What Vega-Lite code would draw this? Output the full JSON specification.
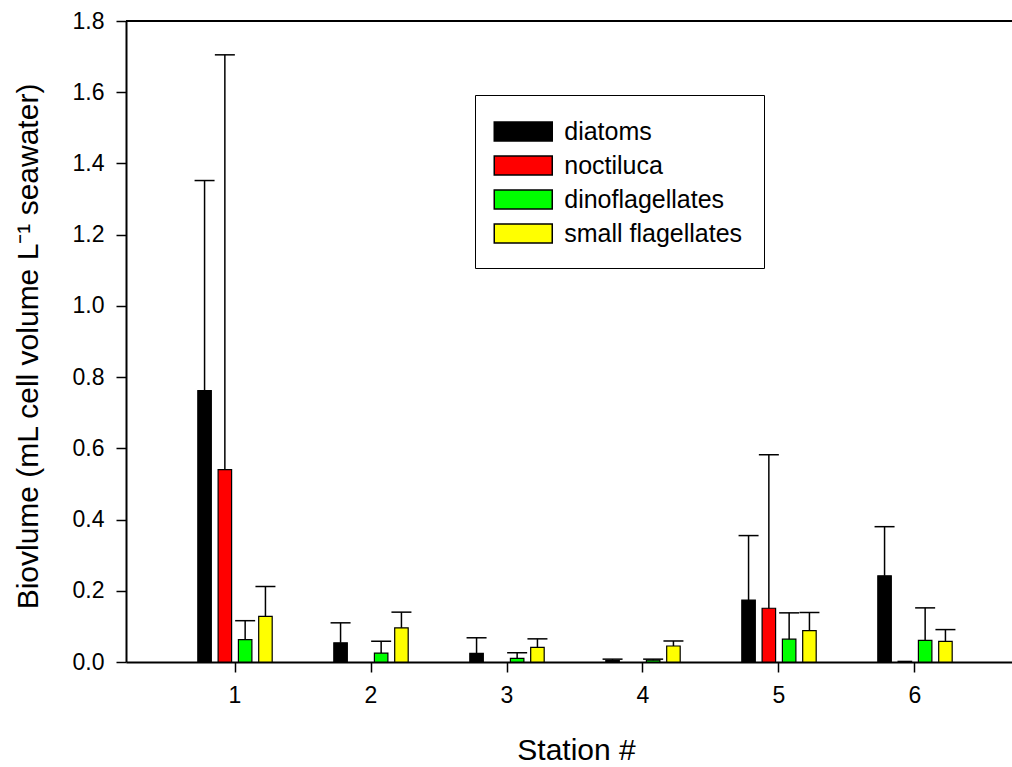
{
  "$schema": "https://vega.github.io/schema/vega-lite/v6.json",
  "width": 886,
  "height": 641,
  "autosize": "none",
  "padding": {"left": 126, "top": 21, "right": 0, "bottom": 105},
  "background": "white",
  "config": {"view": {"stroke": null}, "font": "Liberation Sans"},
  "data": {"values": [
    {"station": "1", "type": "diatoms", "value": 0.762, "upper": 1.352},
    {"station": "1", "type": "noctiluca", "value": 0.540, "upper": 1.705},
    {"station": "1", "type": "dinoflagellates", "value": 0.063, "upper": 0.116},
    {"station": "1", "type": "small flagellates", "value": 0.128, "upper": 0.212},
    {"station": "2", "type": "diatoms", "value": 0.054, "upper": 0.110},
    {"station": "2", "type": "dinoflagellates", "value": 0.025, "upper": 0.058},
    {"station": "2", "type": "small flagellates", "value": 0.096, "upper": 0.140},
    {"station": "3", "type": "diatoms", "value": 0.024, "upper": 0.068},
    {"station": "3", "type": "dinoflagellates", "value": 0.010, "upper": 0.026},
    {"station": "3", "type": "small flagellates", "value": 0.041, "upper": 0.065},
    {"station": "4", "type": "diatoms", "value": 0.004, "upper": 0.008},
    {"station": "4", "type": "dinoflagellates", "value": 0.005, "upper": 0.008},
    {"station": "4", "type": "small flagellates", "value": 0.045, "upper": 0.059},
    {"station": "5", "type": "diatoms", "value": 0.174, "upper": 0.355},
    {"station": "5", "type": "noctiluca", "value": 0.151, "upper": 0.582},
    {"station": "5", "type": "dinoflagellates", "value": 0.064, "upper": 0.138},
    {"station": "5", "type": "small flagellates", "value": 0.088, "upper": 0.139},
    {"station": "6", "type": "diatoms", "value": 0.242, "upper": 0.380},
    {"station": "6", "type": "noctiluca", "value": 0.002, "upper": null},
    {"station": "6", "type": "dinoflagellates", "value": 0.061, "upper": 0.152},
    {"station": "6", "type": "small flagellates", "value": 0.058, "upper": 0.091}
  ]},
  "layer": [
    {
      "mark": {"type": "bar", "stroke": "black", "strokeWidth": 1.2},
      "encoding": {
        "x": {
          "field": "station", "type": "nominal",
          "scale": {"range": [0, 898], "paddingInner": 0.4, "paddingOuter": 0.5015},
          "axis": {
            "title": "Station #", "labelAngle": 0, "tickSize": 10, "tickWidth": 1.5, "tickColor": "black",
            "domainColor": "black", "domainWidth": 2, "labelFontSize": 23, "labelColor": "black",
            "labelPadding": 12, "labelFont": "Liberation Sans",
            "titleFontSize": 30, "titleFontWeight": "normal", "titleColor": "black", "titleFont": "Liberation Sans",
            "titleX": 450, "titleY": 88, "titleBaseline": "middle", "titleAlign": "center"
          }
        },
        "xOffset": {
          "field": "type", "type": "nominal",
          "scale": {"domain": ["diatoms", "noctiluca", "dinoflagellates", "small flagellates"], "paddingInner": 0.335, "paddingOuter": 0.178}
        },
        "y": {
          "field": "value", "type": "quantitative", "title": "Biovlume (mL cell volume L⁻¹ seawater)",
          "scale": {"domain": [0, 1.8], "nice": false, "zero": true},
          "axis": {
            "values": [0, 0.2, 0.4, 0.6, 0.8, 1.0, 1.2, 1.4, 1.6, 1.8], "format": ".1f", "grid": false,
            "tickSize": 10, "tickWidth": 1.5, "tickColor": "black", "domainColor": "black", "domainWidth": 2,
            "labelFontSize": 23, "labelColor": "black", "labelPadding": 12, "labelFont": "Liberation Sans",
            "titleFontSize": 30, "titleFontWeight": "normal", "titleColor": "black", "titleFont": "Liberation Sans",
            "titleX": -98, "titleY": 325, "titleAngle": -90, "titleBaseline": "middle", "titleAlign": "center"
          }
        },
        "color": {
          "field": "type", "type": "nominal",
          "scale": {"domain": ["diatoms", "noctiluca", "dinoflagellates", "small flagellates"], "range": ["#000000", "#ff0000", "#00ff00", "#ffff00"]},
          "legend": {
            "orient": "none", "legendX": 349, "legendY": 74, "title": null,
            "symbolType": "M-2,-0.655H2V0.655H-2Z", "symbolSize": 841, "symbolOffset": 11.75,
            "symbolStrokeColor": "black",
            "symbolStrokeWidth": 1.5, "symbolOpacity": 1, "labelFontSize": 25, "labelFont": "Liberation Sans",
            "labelColor": "black", "labelOffset": 25.5, "rowPadding": 5, "padding": 21,
            "strokeColor": "black", "fillColor": "white", "labelLimit": 400
          }
        }
      }
    },
    {
      "transform": [{"filter": "datum.upper != null"}],
      "mark": {"type": "rule", "stroke": "black", "strokeWidth": 1.5},
      "encoding": {
        "x": {"field": "station", "type": "nominal"},
        "xOffset": {"field": "type", "type": "nominal"},
        "y": {"field": "value", "type": "quantitative", "title": "Biovlume (mL cell volume L⁻¹ seawater)"},
        "y2": {"field": "upper"}
      }
    },
    {
      "transform": [{"filter": "datum.upper != null"}],
      "mark": {"type": "tick", "color": "black", "thickness": 1.5, "size": 20, "orient": "horizontal", "opacity": 1},
      "encoding": {
        "x": {"field": "station", "type": "nominal"},
        "xOffset": {"field": "type", "type": "nominal"},
        "y": {"field": "upper", "type": "quantitative", "title": "Biovlume (mL cell volume L⁻¹ seawater)"}
      }
    },
    {
      "mark": {"type": "rule", "stroke": "black", "strokeWidth": 2},
      "encoding": {"y": {"datum": 1.8, "type": "quantitative"}}
    }
  ]
}
